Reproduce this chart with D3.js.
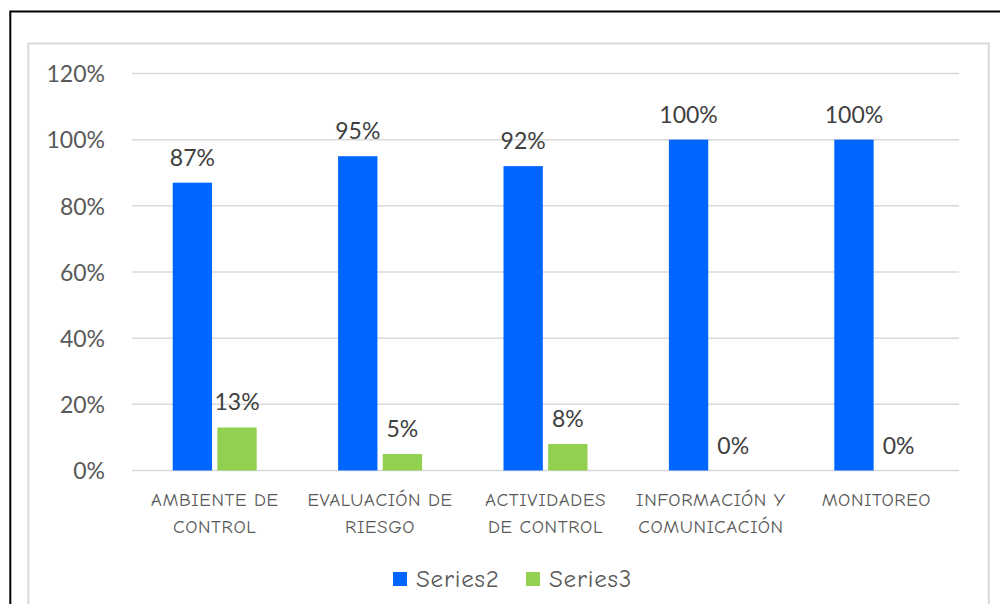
<!DOCTYPE html>
<html>
<head>
<meta charset="utf-8">
<script src="https://cdn.jsdelivr.net/npm/d3@7"></script>
<style>
  html, body { margin: 0; padding: 0; background: #fff; }
  svg { display: block; }
</style>
</head>
<body>
<svg id="chart" width="1000" height="604"></svg>
<script>
// Componentes del control interno: porcentaje de cumplimiento
const categories = [
  ["AMBIENTE DE", "CONTROL"],
  ["EVALUACIÓN DE", "RIESGO"],
  ["ACTIVIDADES", "DE CONTROL"],
  ["INFORMACIÓN Y", "COMUNICACIÓN"],
  ["MONITOREO"]
];
const seriesNames = ["Series2", "Series3"];
const series2 = [0.87, 0.95, 0.92, 1.00, 1.00];
const series3 = [0.13, 0.05, 0.08, 0.00, 0.00];
const yTicks = [0, 0.2, 0.4, 0.6, 0.8, 1.0, 1.2];

const colors = ["#0066FF", "#92D050"];
const numFont = "Lato, 'Open Sans', sans-serif";
const catFont = "'Comic Sans MS', 'Comic Neue', 'DejaVu Sans', sans-serif";

const svg = d3.select("#chart");

// outer frame and chart area border
svg.append("rect").attr("x", 10.3).attr("y", 11.5).attr("width", 1000).attr("height", 700)
  .attr("fill", "none").attr("stroke", "#000").attr("stroke-width", 2);
svg.append("rect").attr("x", 28.3).attr("y", 43.5).attr("width", 960.5).attr("height", 700)
  .attr("fill", "#fff").attr("stroke", "#d9d9d9").attr("stroke-width", 2);

const plotLeft = 132, plotRight = 959, plotTop = 73.5, plotBottom = 470.5;

const x = d3.scaleBand().domain(d3.range(categories.length)).range([plotLeft, plotRight]);
const y = d3.scaleLinear().domain([0, 1.2]).range([plotBottom, plotTop]);

const barW = 37, gap = 10;
const sub = d3.scaleBand().domain([0, 1]).range([0, 2 * barW + gap]).paddingInner(gap / (2 * barW + gap));

// gridlines
svg.append("g").selectAll("line").data(yTicks).join("line")
  .attr("x1", plotLeft).attr("x2", plotRight)
  .attr("y1", d => y(d)).attr("y2", d => y(d))
  .attr("stroke", "#d9d9d9").attr("stroke-width", 1.5);

// y axis labels
const yAxis = d3.axisLeft(y).tickValues(yTicks).tickFormat(d3.format(".0%")).tickSize(0).tickPadding(0);
const ya = svg.append("g").attr("transform", "translate(105,0)").call(yAxis);
ya.select(".domain").remove();
ya.selectAll("text").attr("font-family", numFont).attr("font-size", 23).attr("fill", "#595959").attr("dy", "0.36em");

const data = [series2, series3];
const groupOffset = i => x(i) + x.bandwidth() / 2 - (2 * barW + gap) / 2;

data.forEach((vals, s) => {
  const g = svg.append("g");
  g.selectAll("rect").data(vals).join("rect")
    .attr("x", (d, i) => groupOffset(i) + sub(s))
    .attr("width", sub.bandwidth())
    .attr("y", d => y(d))
    .attr("height", d => y(0) - y(d))
    .attr("fill", colors[s]);
  g.selectAll("text").data(vals).join("text")
    .attr("x", (d, i) => groupOffset(i) + sub(s) + sub.bandwidth() / 2)
    .attr("y", d => y(d) - 17)
    .attr("text-anchor", "middle")
    .attr("font-family", numFont).attr("font-size", 23).attr("fill", "#404040")
    .text(d => d3.format(".0%")(d));
});

// category labels
const cat = svg.append("g");
categories.forEach((lines, i) => {
  const cx = x(i) + x.bandwidth() / 2;
  const t = cat.append("text")
    .attr("x", cx)
    .attr("y", 506)
    .attr("text-anchor", "middle")
    .attr("font-family", catFont).attr("font-size", 19).attr("letter-spacing", 0.6).attr("fill", "#595959");
  lines.forEach((l, j) => t.append("tspan")
    .attr("x", cx).attr("dy", j === 0 ? 0 : 27).text(l));
});

// legend
const legendX = [393, 526];
seriesNames.forEach((name, s) => {
  svg.append("rect").attr("x", legendX[s]).attr("y", 572).attr("width", 14).attr("height", 14).attr("fill", colors[s]);
  svg.append("text").attr("x", legendX[s] + 23).attr("y", 587)
    .attr("font-family", catFont).attr("font-size", 25).attr("letter-spacing", 0.8).attr("fill", "#595959").text(name);
});
</script>
</body>
</html>
